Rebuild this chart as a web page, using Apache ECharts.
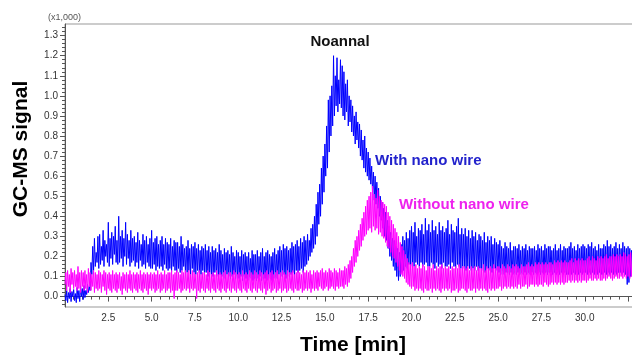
<!DOCTYPE html>
<html>
<head>
<meta charset="utf-8">
<script src="https://cdn.jsdelivr.net/npm/echarts@6/dist/echarts.min.js"></script>
<style>html,body{margin:0;padding:0;background:#fff;}#c{width:632px;height:355px;}</style>
</head>
<body>
<div id="c"></div>
<script>
// Sampling of the traces (minutes)
const timeStart = 0.0;
const timeStep = 0.05;
// GC-MS signal (counts), one value per sample; each row = 0.5 min
const withNanoWire = [
  10,-20,30,-30,20,-10,40,-25,25,0,
  35,-20,15,-30,45,-10,30,-25,50,0,
  40,-15,55,-5,30,10,60,20,50,30,
  170,110,250,130,290,150,220,170,300,140,
  310,160,250,180,330,150,280,200,260,170,
  370,150,290,190,320,160,300,210,350,170,
  280,160,400,170,300,190,330,150,290,200,
  370,160,310,190,280,150,330,170,290,180,
  300,150,270,170,320,140,280,180,260,150,
  310,160,280,140,300,170,260,150,290,140,
  330,140,270,160,290,130,300,150,260,140,
  280,150,300,130,260,160,290,140,270,130,
  260,140,290,120,250,150,280,130,270,120,
  270,140,250,120,300,130,260,150,240,120,
  250,120,280,130,240,110,260,140,250,120,
  270,110,240,130,260,120,230,110,250,130,
  240,110,260,120,230,100,250,120,220,110,
  250,100,230,120,240,110,220,100,260,110,
  230,100,210,110,240,90,220,110,230,100,
  210,90,250,100,220,110,200,90,230,100,
  220,90,200,100,230,80,210,100,220,90,
  200,80,220,100,190,90,230,80,210,90,
  210,80,230,90,200,100,220,80,240,90,
  200,90,220,80,230,100,210,90,200,80,
  220,90,240,100,210,90,230,110,250,100,
  230,100,260,110,240,90,250,120,230,100,
  240,110,270,120,250,100,260,130,280,120,
  250,130,290,140,270,120,300,150,280,160,
  310,180,280,200,340,220,360,240,400,260,
  460,300,520,360,560,400,640,460,700,520,
  760,600,850,640,980,720,1000,800,1050,850,
  1200,900,1100,950,1190,920,1080,960,1180,940,
  1150,900,1120,880,1060,920,1080,850,1000,870,
  980,820,950,800,900,760,920,780,870,740,
  860,700,830,680,780,640,800,620,740,600,
  720,580,690,560,650,520,620,480,600,460,
  570,440,540,400,500,380,470,340,440,300,
  420,280,380,240,350,200,320,180,290,150,
  280,130,250,100,240,80,220,100,260,120,
  300,130,280,150,320,140,290,160,330,150,
  350,160,320,150,370,170,300,160,340,150,
  330,170,360,150,310,160,390,170,330,150,
  360,150,320,170,380,160,330,140,350,170,
  310,150,370,160,330,140,350,170,320,150,
  340,150,380,160,310,140,360,170,330,150,
  320,140,350,160,390,150,310,140,340,150,
  310,140,340,130,300,150,330,140,290,130,
  330,140,300,130,320,150,280,130,310,140,
  300,130,280,140,320,120,270,140,300,130,
  280,130,300,120,260,140,290,120,270,130,
  260,120,280,110,250,130,240,110,270,120,
  250,120,240,110,270,120,230,110,250,120,
  250,110,240,120,260,110,230,120,250,110,
  240,120,260,110,230,120,250,110,240,120,
  240,110,250,120,230,110,260,120,240,110,
  250,120,230,110,260,120,240,110,250,120,
  250,120,230,110,240,120,260,110,230,120,
  240,110,260,120,230,110,250,120,240,110,
  240,110,250,120,270,110,240,120,250,110,
  230,120,260,110,240,120,250,110,260,120,
  250,120,240,110,260,120,250,110,270,120,
  240,110,250,120,230,110,260,120,240,110,
  240,110,260,120,250,110,280,120,250,110,
  260,120,240,110,250,120,270,110,240,120,
  260,120,240,110,270,120,250,110,240,60,
  250,70,240,100,230,110
];
const withoutNanoWire = [
  60,120,30,130,50,110,20,140,60,120,
  40,130,50,110,30,150,40,120,20,130,
  50,120,30,130,40,110,20,140,50,120,
  30,110,50,130,20,120,40,110,30,130,
  40,120,20,110,50,130,30,120,10,110,
  40,120,30,110,20,130,40,110,30,120,
  20,110,40,120,30,100,10,120,40,110,
  30,120,20,110,40,130,30,110,20,120,
  40,110,30,120,20,110,40,130,30,110,
  20,120,40,110,30,120,10,110,40,120,
  30,110,40,120,20,110,30,130,40,110,
  20,120,30,110,40,130,20,110,30,120,
  40,120,20,130,30,110,-10,120,30,130,
  30,120,40,110,20,130,30,120,40,130,
  30,120,40,130,20,110,40,130,30,120,
  40,110,-10,120,30,130,20,110,40,120,
  30,120,20,110,40,130,30,120,20,110,
  40,120,30,110,20,130,40,110,30,120,
  20,110,40,120,30,130,20,110,40,120,
  30,120,20,110,40,130,30,120,20,110,
  40,120,30,110,20,130,40,110,30,120,
  20,110,40,130,30,120,20,110,40,130,
  30,120,20,110,40,130,30,120,20,110,
  40,120,10,130,30,110,40,120,20,130,
  30,110,40,120,20,130,30,110,40,120,
  20,130,30,120,40,110,20,130,30,120,
  40,120,30,130,20,110,40,120,30,130,
  30,120,40,110,20,130,30,120,40,130,
  30,120,40,130,20,110,40,130,30,120,
  40,130,30,120,50,130,40,140,30,120,
  40,130,50,120,30,140,40,130,50,120,
  40,140,30,130,50,120,40,140,50,130,
  50,130,40,150,60,140,50,160,70,180,
  90,200,120,240,150,280,170,300,200,330,
  230,360,250,390,280,420,300,450,310,480,
  330,500,340,520,320,550,350,510,330,490,
  340,530,310,500,320,480,300,470,290,460,
  270,450,250,420,240,400,220,380,200,360,
  190,340,170,320,150,300,130,270,110,250,
  100,230,90,210,70,190,60,170,50,160,
  40,170,50,150,30,160,40,140,30,150,
  40,140,30,160,20,150,40,130,30,150,
  30,150,40,140,20,160,40,130,30,150,
  40,140,30,150,20,160,40,140,30,150,
  40,140,30,150,40,130,20,150,30,140,
  30,150,40,140,20,160,30,140,40,150,
  40,150,30,140,20,150,40,130,30,150,
  30,140,40,150,20,130,40,150,30,140,
  40,140,30,160,40,130,30,150,20,140,
  40,150,30,140,40,160,30,140,40,150,
  40,150,50,140,30,160,40,150,50,140,
  40,160,50,150,40,140,50,160,40,150,
  50,160,40,150,60,140,40,160,50,150,
  50,150,60,160,40,170,50,150,60,160,
  60,150,50,170,60,160,50,170,60,160,
  60,170,50,160,70,170,60,160,50,170,
  60,170,70,160,60,180,70,170,60,180,
  70,170,60,180,70,170,60,180,70,170,
  70,170,80,180,70,190,80,170,70,190,
  80,180,70,190,80,180,70,190,80,180,
  80,180,70,190,80,200,90,180,80,200,
  80,190,90,180,80,200,90,190,80,200,
  80,190,90,200,80,210,90,190,100,200,
  90,200,80,210,90,200,100,210,90,200,
  90,210,100,200,90,220,100,210,90,200,
  100,210,90,220,100,210
];
const yMajorTicks = [0,100,200,300,400,500,600,700,800,900,1000,1100,1200,1300];
const yMinorTicks = [-40,-20,0,20,40,60,80,100,120,140,160,180,200,220,240,260,280,300,320,340,360,380,400,420,440,460,480,500,520,540,560,580,600,620,640,660,680,700,720,740,760,780,800,820,840,860,880,900,920,940,960,980,1000,1020,1040,1060,1080,1100,1120,1140,1160,1180,1200,1220,1240,1260,1280,1300,1320,1340];
const xLabelMax = 30;

const toPairs = arr => arr.map((v, i) => [+(timeStart + i * timeStep).toFixed(2), v]);

const chart = echarts.init(document.getElementById('c'), null, {renderer: 'canvas'});
const FONT = '"Liberation Sans", Arial, sans-serif';
chart.setOption({
  animation: false,
  backgroundColor: '#fff',
  grid: {left: 65, width: 570, top: 24, bottom: 48, show: true, borderColor: '#999', borderWidth: 1,
    containLabel: false, outerBoundsMode: 'none'},
  xAxis: {
    type: 'value', min: 0, max: 32.9, interval: 2.5,
    axisLine: {lineStyle: {color: '#555'}},
    axisTick: {show: true, length: 5, lineStyle: {color: '#555'}},
    minorTick: {show: true, splitNumber: 5, length: 3, lineStyle: {color: '#555'}},
    splitLine: {show: false},
    axisLabel: {
      margin: 6, color: '#333', fontSize: 10, fontFamily: FONT,
      formatter: v => (v > 0 && v <= xLabelMax && Math.abs(v / 2.5 - Math.round(v / 2.5)) < 1e-6) ? v.toFixed(1) : ''
    }
  },
  yAxis: [{
    type: 'value', min: -52, max: 1358,
    axisLine: {show: true, lineStyle: {color: '#555'}},
    axisTick: {show: true, length: 5, customValues: yMajorTicks, lineStyle: {color: '#555'}},
    splitLine: {show: false},
    axisLabel: {margin: 7, color: '#333', fontSize: 10, fontFamily: FONT, customValues: yMajorTicks,
      formatter: v => (v / 1000).toFixed(1)}
  }, {
    type: 'value', min: -52, max: 1358, position: 'left',
    axisLine: {show: false},
    axisTick: {show: true, length: 3, customValues: yMinorTicks, lineStyle: {color: '#555'}},
    splitLine: {show: false},
    axisLabel: {show: false}
  }],
  series: [{
    name: 'With nano wire', type: 'line', data: toPairs(withNanoWire), yAxisIndex: 0,
    showSymbol: false, sampling: null, z: 2,
    lineStyle: {color: '#0000ff', width: 1}
  }, {
    name: 'Without nano wire', type: 'line', data: toPairs(withoutNanoWire), yAxisIndex: 0,
    showSymbol: false, sampling: null, z: 3,
    lineStyle: {color: '#ff00ff', width: 1}
  }],
  graphic: [
    {type: 'text', left: 48, top: 13, style: {text: '(x1,000)', fontSize: 9, fill: '#555', fontFamily: FONT}},
    {type: 'text', x: 21, y: 149, rotation: Math.PI / 2,
      style: {text: 'GC-MS signal', fontSize: 21, fontWeight: 'bold', fill: '#000', fontFamily: FONT, align: 'center', verticalAlign: 'middle'}},
    {type: 'text', x: 353, y: 345,
      style: {text: 'Time [min]', fontSize: 21, fontWeight: 'bold', fill: '#000', fontFamily: FONT, align: 'center', verticalAlign: 'middle'}},
    {type: 'text', x: 340, y: 42,
      style: {text: 'Noannal', fontSize: 15, fontWeight: 'bold', fill: '#111', fontFamily: FONT, align: 'center', verticalAlign: 'middle'}},
    {type: 'text', x: 375, y: 161,
      style: {text: 'With nano wire', fontSize: 15, fontWeight: 'bold', fill: '#2222cc', fontFamily: FONT, align: 'left', verticalAlign: 'middle'}},
    {type: 'text', x: 399, y: 205,
      style: {text: 'Without nano wire', fontSize: 15, fontWeight: 'bold', fill: '#ee22ee', fontFamily: FONT, align: 'left', verticalAlign: 'middle'}}
  ]
});
</script>
</body>
</html>
